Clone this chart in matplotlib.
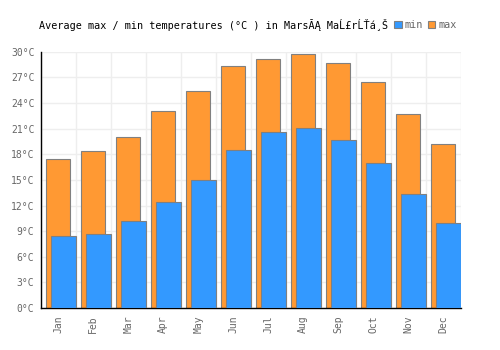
import numpy as np
import matplotlib
matplotlib.use('Agg')
import matplotlib.pyplot as plt
from matplotlib.patches import Patch

# Monthly averages (degrees C)
months = ["Jan", "Feb", "Mar", "Apr", "May", "Jun", "Jul", "Aug", "Sep", "Oct", "Nov", "Dec"]
temp_max = [17.5, 18.4, 20.0, 23.1, 25.4, 28.3, 29.15, 29.7, 28.7, 26.45, 22.7, 19.2]
temp_min = [8.4, 8.65, 10.2, 12.4, 15.0, 18.5, 20.6, 21.05, 19.65, 16.95, 13.35, 9.95]
y_ticks = [0, 3, 6, 9, 12, 15, 18, 21, 24, 27, 30]

title = "Average max / min temperatures (°C ) in MarsĂĄ MaĹ£rĹŤá¸Š"

orange = "#ff9933"
blue = "#3399ff"
edge = "#808080"

plt.rcParams['font.family'] = ['DejaVu Sans Mono', 'DejaVu Sans']

fig = plt.figure(figsize=(5, 3.5), dpi=100)
ax = fig.add_axes([0.0814, 0.12, 0.84, 0.732])

x = np.arange(len(months))
ax.bar(x, temp_max, width=0.67, color=orange, edgecolor=edge, linewidth=0.8, zorder=2)
ax.bar(x + 0.15, temp_min, width=0.7, color=blue, edgecolor=edge, linewidth=0.8, zorder=3)

ax.set_xlim(-0.5, 11.5)
ax.set_ylim(0, 30)
ax.set_yticks(y_ticks)
ax.set_yticklabels([f"{t}°C" for t in y_ticks])
ax.set_xticks(x)
ax.set_xticklabels(months, rotation=90)
ax.set_xticks(np.arange(-0.5, 12, 1), minor=True)

# grid: horizontal on major y ticks, vertical on month boundaries
ax.set_axisbelow(True)
ax.grid(axis='y', which='major', color='#eeeeee', linewidth=1)
ax.grid(axis='x', which='minor', color='#eeeeee', linewidth=1)
ax.tick_params(axis='both', which='both', length=0, labelsize=7, labelcolor='#666666')
ax.tick_params(axis='y', pad=4.5)
ax.tick_params(axis='x', pad=5)

for s in ['top', 'right']:
    ax.spines[s].set_visible(False)
for s in ['left', 'bottom']:
    ax.spines[s].set_color('black')
    ax.spines[s].set_linewidth(1)

fig.text(0.078, 0.929, title, ha='left', va='center', fontsize=7.3, color='black')

handles = [Patch(facecolor=blue, edgecolor=edge, linewidth=0.8, label='min'),
           Patch(facecolor=orange, edgecolor=edge, linewidth=0.8, label='max')]
fig.legend(handles=handles, loc='center right', bbox_to_anchor=(0.913, 0.929), ncol=2,
           frameon=False, fontsize=7.3, labelcolor='#666666', handlelength=0.7,
           handleheight=0.7, handletextpad=0.3, columnspacing=0.5, borderpad=0, borderaxespad=0)

fig.savefig("out.png", dpi=100)
